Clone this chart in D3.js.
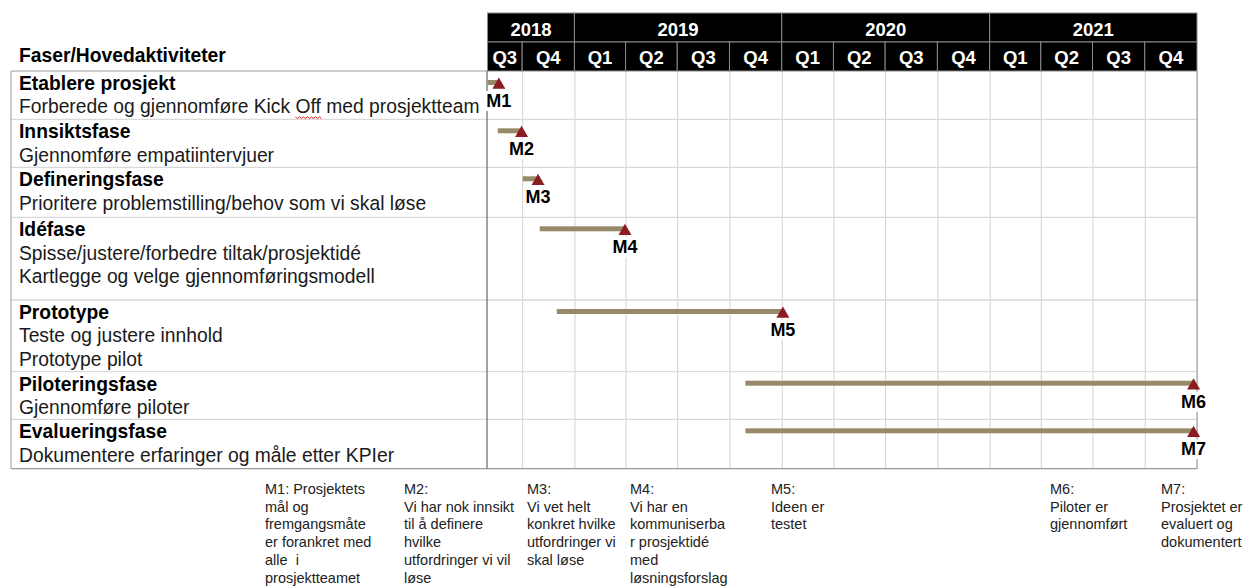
<!DOCTYPE html>
<html><head><meta charset="utf-8">
<script src="https://cdn.jsdelivr.net/npm/d3@7"></script>
<style>
body{margin:0;background:#fff}
svg{display:block}
text{font-family:"Liberation Sans",Arial,Helvetica,sans-serif}
</style>
</head><body>
<svg id="c" width="1247" height="586"></svg>
<script>
// ---------------- DATA ----------------
const tableTitle = "Faser/Hovedaktiviteter";
const phases = ["Etablere prosjekt","Innsiktsfase","Defineringsfase","Idéfase","Prototype","Piloteringsfase","Evalueringsfase"];
const descriptions = [
  ["Forberede og gjennomføre Kick Off med prosjektteam"],
  ["Gjennomføre empatiintervjuer"],
  ["Prioritere problemstilling/behov som vi skal løse"],
  ["Spisse/justere/forbedre tiltak/prosjektidé","Kartlegge og velge gjennomføringsmodell"],
  ["Teste og justere innhold","Prototype pilot"],
  ["Gjennomføre piloter"],
  ["Dokumentere erfaringer og måle etter KPIer"]
];
const barStarts = ["2018-08-01","2018-08-19","2018-10-02","2018-11-01","2018-12-01","2019-10-29","2019-10-29"];
const milestoneDates = ["2018-08-21","2018-09-30","2018-10-29","2019-03-31","2020-01-03","2021-12-26","2021-12-26"];
const milestoneLabels = ["M1","M2","M3","M4","M5","M6","M7"];
const timelineStart = "2018-08-01";
const timelineEnd = "2022-01-01";
const years = ["2018","2019","2020","2021"];
const quarterLabels = ["Q3","Q4","Q1","Q2","Q3","Q4","Q1","Q2","Q3","Q4","Q1","Q2","Q3","Q4"];
const milestoneNotes = [
  ["M1: Prosjektets","mål og","fremgangsmåte","er forankret med","alle  i","prosjektteamet"],
  ["M2:","Vi har nok innsikt","til å definere","hvilke","utfordringer vi vil","løse"],
  ["M3:","Vi vet helt","konkret hvilke","utfordringer vi","skal løse"],
  ["M4:","Vi har en","kommuniserba","r prosjektidé","med","løsningsforslag"],
  ["M5:","Ideen er","testet"],
  ["M6:","Piloter er","gjennomført"],
  ["M7:","Prosjektet er","evaluert og","dokumentert"]
];

// ---------------- LAYOUT ----------------
const tableLeft = 11, chartLeft = 487.5, chartRight = 1197;
const headerTop = 13, headerMid = 42, gridTop = 71;
const rowHeights = [48.3,48,50,82.7,71.7,47.6,49.4];
const noteX = [265,404,527,630,771,1050,1161];
const noteTop = 494, noteLine = 17.7;
const barColor = "#978a69", markColor = "#8c1b22";
const tableFont = "19.3px";

const parse = d3.timeParse("%Y-%m-%d");
const x = d3.scaleTime().domain([parse(timelineStart), parse(timelineEnd)]).range([chartLeft, chartRight]);

const rowTops = [];
let acc = gridTop;
rowHeights.forEach(h => { rowTops.push(acc); acc += h; });
const gridBottom = acc;

const svg = d3.select("#c");

// quarter boundaries
const qTicks = x.ticks(d3.timeMonth.every(3)).filter(d => d > x.domain()[0] && d < x.domain()[1]);
const qEdges = [x.domain()[0], ...qTicks, x.domain()[1]];
const yTicks = x.ticks(d3.timeYear.every(1)).filter(d => d > x.domain()[0] && d < x.domain()[1]);
const yEdges = [x.domain()[0], ...yTicks, x.domain()[1]];

// ---------------- GRID ----------------
const gridAxis = d3.axisBottom(x).ticks(d3.timeMonth.every(3)).tickSize(-(gridBottom - gridTop)).tickFormat("");
const gg = svg.append("g").attr("transform", `translate(0,${gridBottom})`).call(gridAxis);
gg.select(".domain").remove();
gg.selectAll(".tick line").attr("stroke", "#d2d2d2").attr("stroke-width", 1);

// row lines
svg.append("g").selectAll("line").data(rowTops.slice(1)).join("line")
  .attr("x1", tableLeft).attr("x2", chartRight)
  .attr("y1", d => d).attr("y2", d => d)
  .attr("stroke", "#d9d9d9").attr("stroke-width", 1.3);

// borders
const border = svg.append("g").attr("fill","none");
border.append("line").attr("x1",tableLeft).attr("x2",chartLeft).attr("y1",gridTop).attr("y2",gridTop).attr("stroke","#9a9a9a");
border.append("line").attr("x1",tableLeft).attr("x2",tableLeft).attr("y1",gridTop).attr("y2",gridBottom).attr("stroke","#9a9a9a");
border.append("line").attr("x1",tableLeft).attr("x2",chartRight).attr("y1",gridBottom).attr("y2",gridBottom).attr("stroke","#9a9a9a").attr("stroke-width",1.3);
border.append("line").attr("x1",chartLeft-0.5).attr("x2",chartLeft-0.5).attr("y1",gridTop).attr("y2",gridBottom).attr("stroke","#666").attr("stroke-width",1.2);
border.append("line").attr("x1",chartRight).attr("x2",chartRight).attr("y1",gridTop).attr("y2",gridBottom).attr("stroke","#aaa").attr("stroke-width",1.3);

// ---------------- HEADER ----------------
const hdr = svg.append("g");
hdr.selectAll("rect.yr").data(years).join("rect").attr("class","yr")
  .attr("x", (d,i) => x(yEdges[i])).attr("width", (d,i) => x(yEdges[i+1]) - x(yEdges[i]))
  .attr("y", headerTop).attr("height", headerMid - headerTop)
  .attr("fill","#000").attr("stroke","#8a8a8a").attr("stroke-width",1);
hdr.selectAll("rect.q").data(quarterLabels).join("rect").attr("class","q")
  .attr("x", (d,i) => x(qEdges[i])).attr("width", (d,i) => x(qEdges[i+1]) - x(qEdges[i]))
  .attr("y", headerMid).attr("height", gridTop - headerMid)
  .attr("fill","#000").attr("stroke","#8a8a8a").attr("stroke-width",1);
hdr.selectAll("text.yr").data(years).join("text").attr("class","yr")
  .attr("x", (d,i) => (x(yEdges[i]) + x(yEdges[i+1]))/2).attr("y", 35.5)
  .attr("text-anchor","middle").attr("fill","#fff").attr("font-weight","bold").attr("font-size","18.5px")
  .text(d => d);
hdr.selectAll("text.q").data(quarterLabels).join("text").attr("class","q")
  .attr("x", (d,i) => (x(qEdges[i]) + x(qEdges[i+1]))/2).attr("y", 63.5)
  .attr("text-anchor","middle").attr("fill","#fff").attr("font-weight","bold").attr("font-size","18.5px")
  .text(d => d);

svg.append("text").attr("x",19).attr("y",62).attr("font-weight","bold").attr("font-size",tableFont)
  .attr("fill","#000").text(tableTitle);

// ---------------- TABLE TEXT ----------------
const lineH = 23.4;
phases.forEach((p,i) => {
  const g = svg.append("g");
  const y0 = rowTops[i] + 19;
  g.append("text").attr("x",19).attr("y",y0).attr("font-weight","bold").attr("font-size",tableFont).attr("fill","#000").text(p);
  descriptions[i].forEach((line,j) => {
    const t = g.append("text").attr("x",19).attr("y",y0 + lineH*(j+1)).attr("font-size",tableFont).attr("fill","#1a1a1a").text(line);
    const k = line.indexOf("Off");
    if (k >= 0) {
      const node = t.node();
      const sx = node.getStartPositionOfChar(k).x;
      const w = node.getSubStringLength(k, 3);
      const yy = y0 + lineH*(j+1) + 3.5;
      let d = `M${sx},${yy}`;
      for (let xx = sx, s = 0; xx < sx + w; xx += 2, s++) d += `L${xx+2},${yy + (s%2 ? 0 : 1.6)}`;
      g.append("path").attr("d", d).attr("fill","none").attr("stroke","#e02020").attr("stroke-width",1);
    }
  });
});

// ---------------- BARS & MILESTONES ----------------
const marks = svg.append("g");
milestoneLabels.forEach((m,i) => {
  const by = rowTops[i] + 11.5;
  const xs = x(parse(barStarts[i])), xe = x(parse(milestoneDates[i]));
  marks.append("rect").attr("x", xs).attr("y", by - 2.5).attr("width", Math.max(0, xe - xs)).attr("height", 5).attr("fill", barColor);
  marks.append("path").attr("d", `M${xe},${by-5} L${xe+6.5},${by+6.3} L${xe-6.5},${by+6.3} Z`).attr("fill", markColor);
  const lbl = marks.append("text").attr("x", xe).attr("y", by + 24.5).attr("text-anchor","middle")
    .attr("font-weight","bold").attr("font-size","18px").attr("fill","#000").text(m);
  const bb = lbl.node().getBBox();
  marks.insert("rect", () => lbl.node()).attr("x", bb.x - 2).attr("y", bb.y).attr("width", bb.width + 4).attr("height", bb.height).attr("fill","#fff");
});

// ---------------- NOTES ----------------
const notes = svg.append("g");
milestoneNotes.forEach((lines,i) => {
  lines.forEach((l,j) => {
    notes.append("text").attr("x", noteX[i]).attr("y", noteTop + noteLine*j)
      .attr("font-size","14.5px").attr("fill","#222").attr("xml:space","preserve").style("white-space","pre").text(l);
  });
});
</script>
</body></html>
